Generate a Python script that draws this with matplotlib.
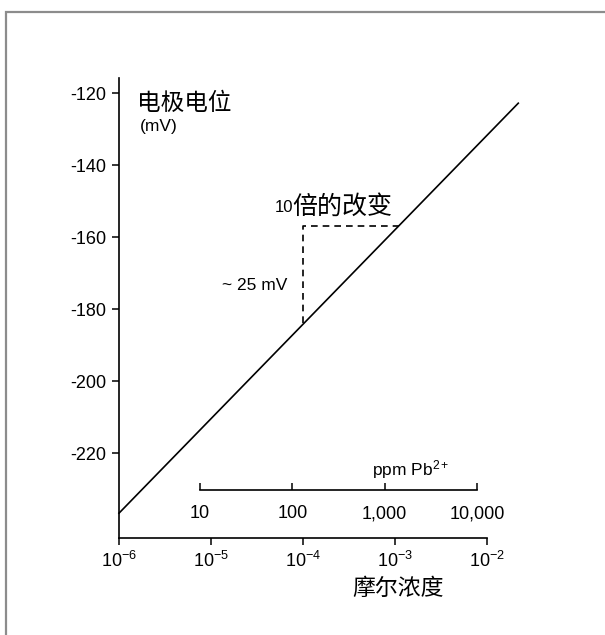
import numpy as np
import matplotlib.pyplot as plt
from matplotlib.patches import Rectangle

plt.rcParams['font.family'] = ['Liberation Sans', 'Noto Sans CJK SC', 'DejaVu Sans']
plt.rcParams['axes.unicode_minus'] = False
plt.rcParams['mathtext.fontset'] = 'custom'
plt.rcParams['mathtext.rm'] = 'Liberation Sans'
plt.rcParams['mathtext.it'] = 'Liberation Sans'

# 电极响应直线 (log10 摩尔浓度, mV)
log_conc = [-6.0, -1.66]
potential = [-236.7, -122.8]

# 10倍改变的虚线三角
step_log = [-4.0, -4.0, -2.96]
step_mv = [-184, -157, -157]

y_ticks = [-120, -140, -160, -180, -200, -220]
x_ticks = [1e-6, 1e-5, 1e-4, 1e-3, 1e-2]
x_labels = ['10$^{-6}$', '10$^{-5}$', '10$^{-4}$', '10$^{-3}$', '10$^{-2}$']
ppm_ticks = [10, 100, 1000, 10000]
ppm_labels = ['10', '100', '1,000', '10,000']

W, H = 605, 635
fig = plt.figure(figsize=(W / 100, H / 100), dpi=100)

# 外框
fig.patches.append(Rectangle((5.5 / W, -0.1), 2, (H - 12.5) / H + 0.1,
                             transform=fig.transFigure, fill=False,
                             edgecolor='#8c8c8c', lw=1.6))

ax = fig.add_axes([119 / W, (H - 538) / H, (487 - 119) / W, (538 - 78) / H])
ax.set_xscale('log')
ax.set_xlim(1e-6, 1e-2)
ax.set_ylim(-243.6, -115.8)
ax.spines['top'].set_visible(False)
ax.spines['right'].set_visible(False)
for s in ['left', 'bottom']:
    ax.spines[s].set_linewidth(1.2)
ax.set_yticks(y_ticks)
ax.set_yticklabels([str(v) for v in y_ticks], fontsize=13)
ax.set_xticks(x_ticks)
ax.set_xticklabels(x_labels, fontsize=13)
ax.minorticks_off()
ax.tick_params(length=5, width=1.1, pad=4)

ax.plot(10 ** np.array(log_conc), potential, color='black', lw=1.2, clip_on=False)
ax.plot(10 ** np.array(step_log), step_mv, color='black', lw=1.2, ls=(0, (4, 3)))

fig.text(275 / W, 1 - 208 / H, '10', fontsize=12, va='center')
fig.text(292 / W, 1 - 207 / H, '倍的改变', fontsize=18, va='center')
fig.text(222 / W, 1 - 285 / H, '~ 25 mV', fontsize=12.5, va='center')
fig.text(137 / W, 1 - 104 / H, '电极电位', fontsize=17, va='center')
fig.text(140 / W, 1 - 126 / H, '(mV)', fontsize=12.5, va='center')
fig.text(398 / W, 1 - 588 / H, '摩尔浓度', fontsize=16.5, va='center', ha='center')

# ppm 辅助坐标轴
ax2 = fig.add_axes([200 / W, (H - 490) / H, (477 - 200) / W, 0.02])
ax2.set_xscale('log')
ax2.set_xlim(10, 10000)
for s in ['top', 'left', 'right']:
    ax2.spines[s].set_visible(False)
ax2.spines['bottom'].set_linewidth(1.2)
ax2.patch.set_alpha(0)
ax2.set_yticks([])
ax2.set_xticks(ppm_ticks)
ax2.set_xticklabels(ppm_labels, fontsize=13)
ax2.minorticks_off()
ax2.tick_params(axis='x', direction='in', length=5, width=1.1, pad=11)
fig.text(372 / W, 1 - 470 / H, 'ppm Pb$^{2+}$', fontsize=12.5, va='center', ha='left')

fig.savefig('out.png', dpi=100)
